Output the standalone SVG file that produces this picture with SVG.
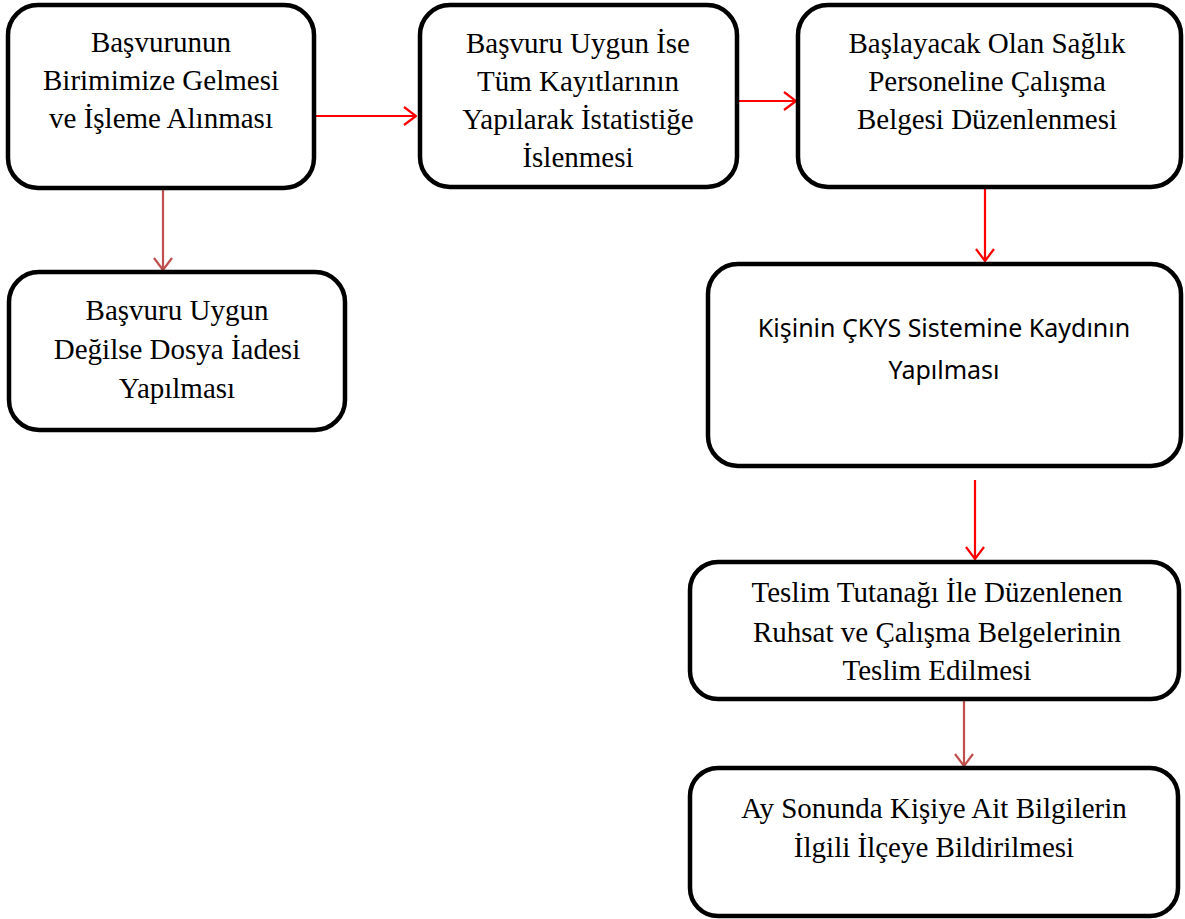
<svg xmlns="http://www.w3.org/2000/svg" width="1185" height="919" viewBox="0 0 1185 919">
  <style>
    .box { fill: #ffffff; stroke: #000000; stroke-width: 4.5; }
    .t { font-family: "Liberation Serif", "Times New Roman", serif; font-size: 29px; fill: #000000; text-anchor: middle; }
    .s { font-family: "Noto Sans", "Open Sans", sans-serif; font-size: 25px; fill: #000000; text-anchor: middle; }
    .red { stroke: #ff0000; stroke-width: 2.2; fill: none; }
    .brown { stroke: #c0504d; stroke-width: 2.2; fill: none; }
  </style>
  <defs>
    <marker id="arrRed" viewBox="0 0 14 20" refX="13" refY="10" markerWidth="14" markerHeight="20" markerUnits="userSpaceOnUse" orient="auto">
      <path d="M1,1 L13,10 L1,19" fill="none" stroke="#ff0000" stroke-width="2.2"/>
    </marker>
    <marker id="arrBrown" viewBox="0 0 14 20" refX="13" refY="10" markerWidth="14" markerHeight="20" markerUnits="userSpaceOnUse" orient="auto">
      <path d="M1,1 L13,10 L1,19" fill="none" stroke="#c0504d" stroke-width="2.2"/>
    </marker>
  </defs>
  <rect width="1185" height="919" fill="#ffffff"/>

  <g id="connectors">
    <line class="red" x1="315" y1="116" x2="416" y2="116" marker-end="url(#arrRed)"/>
    <line class="red" x1="738" y1="101" x2="796" y2="101" marker-end="url(#arrRed)"/>
    <line class="brown" x1="163" y1="189" x2="163" y2="270" marker-end="url(#arrBrown)"/>
    <line class="red" x1="985" y1="186" x2="985" y2="261" marker-end="url(#arrRed)"/>
    <line class="red" x1="975" y1="480" x2="975" y2="559" marker-end="url(#arrRed)"/>
    <line class="brown" x1="964" y1="701" x2="964" y2="766" marker-end="url(#arrBrown)"/>
  </g>

  <g id="node-basvuru">
    <rect class="box" x="8" y="5" width="306" height="183" rx="30"/>
    <text class="t" x="161" y="52">Başvurunun</text>
    <text class="t" x="161" y="90">Birimimize Gelmesi</text>
    <text class="t" x="161" y="128">ve İşleme Alınması</text>
  </g>

  <g id="node-kayit">
    <rect class="box" x="420" y="5" width="317" height="182" rx="30"/>
    <text class="t" x="578" y="53">Başvuru Uygun İse</text>
    <text class="t" x="578" y="91">Tüm Kayıtlarının</text>
    <text class="t" x="578" y="129">Yapılarak İstatistiğe</text>
    <text class="t" x="578" y="167">İslenmesi</text>
  </g>

  <g id="node-belge">
    <rect class="box" x="798" y="5" width="383" height="182" rx="30"/>
    <text class="t" x="987" y="53">Başlayacak Olan Sağlık</text>
    <text class="t" x="987" y="91">Personeline Çalışma</text>
    <text class="t" x="987" y="129">Belgesi Düzenlenmesi</text>
  </g>

  <g id="node-iade">
    <rect class="box" x="9" y="272" width="336" height="158" rx="30"/>
    <text class="t" x="177" y="320">Başvuru Uygun</text>
    <text class="t" x="177" y="359">Değilse Dosya İadesi</text>
    <text class="t" x="177" y="398">Yapılması</text>
  </g>

  <g id="node-ckys">
    <rect class="box" x="708" y="264" width="473" height="202" rx="30"/>
    <text class="s" x="944" y="337">Kişinin ÇKYS Sistemine Kaydının</text>
    <text class="s" x="944" y="379">Yapılması</text>
  </g>

  <g id="node-teslim">
    <rect class="box" x="690" y="562" width="489" height="137" rx="28"/>
    <text class="t" x="937" y="602">Teslim Tutanağı İle Düzenlenen</text>
    <text class="t" x="937" y="642">Ruhsat ve Çalışma Belgelerinin</text>
    <text class="t" x="937" y="680">Teslim Edilmesi</text>
  </g>

  <g id="node-bildirim">
    <rect class="box" x="690" y="768" width="488" height="148" rx="28"/>
    <text class="t" x="934" y="818">Ay Sonunda Kişiye Ait Bilgilerin</text>
    <text class="t" x="934" y="857">İlgili İlçeye Bildirilmesi</text>
  </g>
</svg>
